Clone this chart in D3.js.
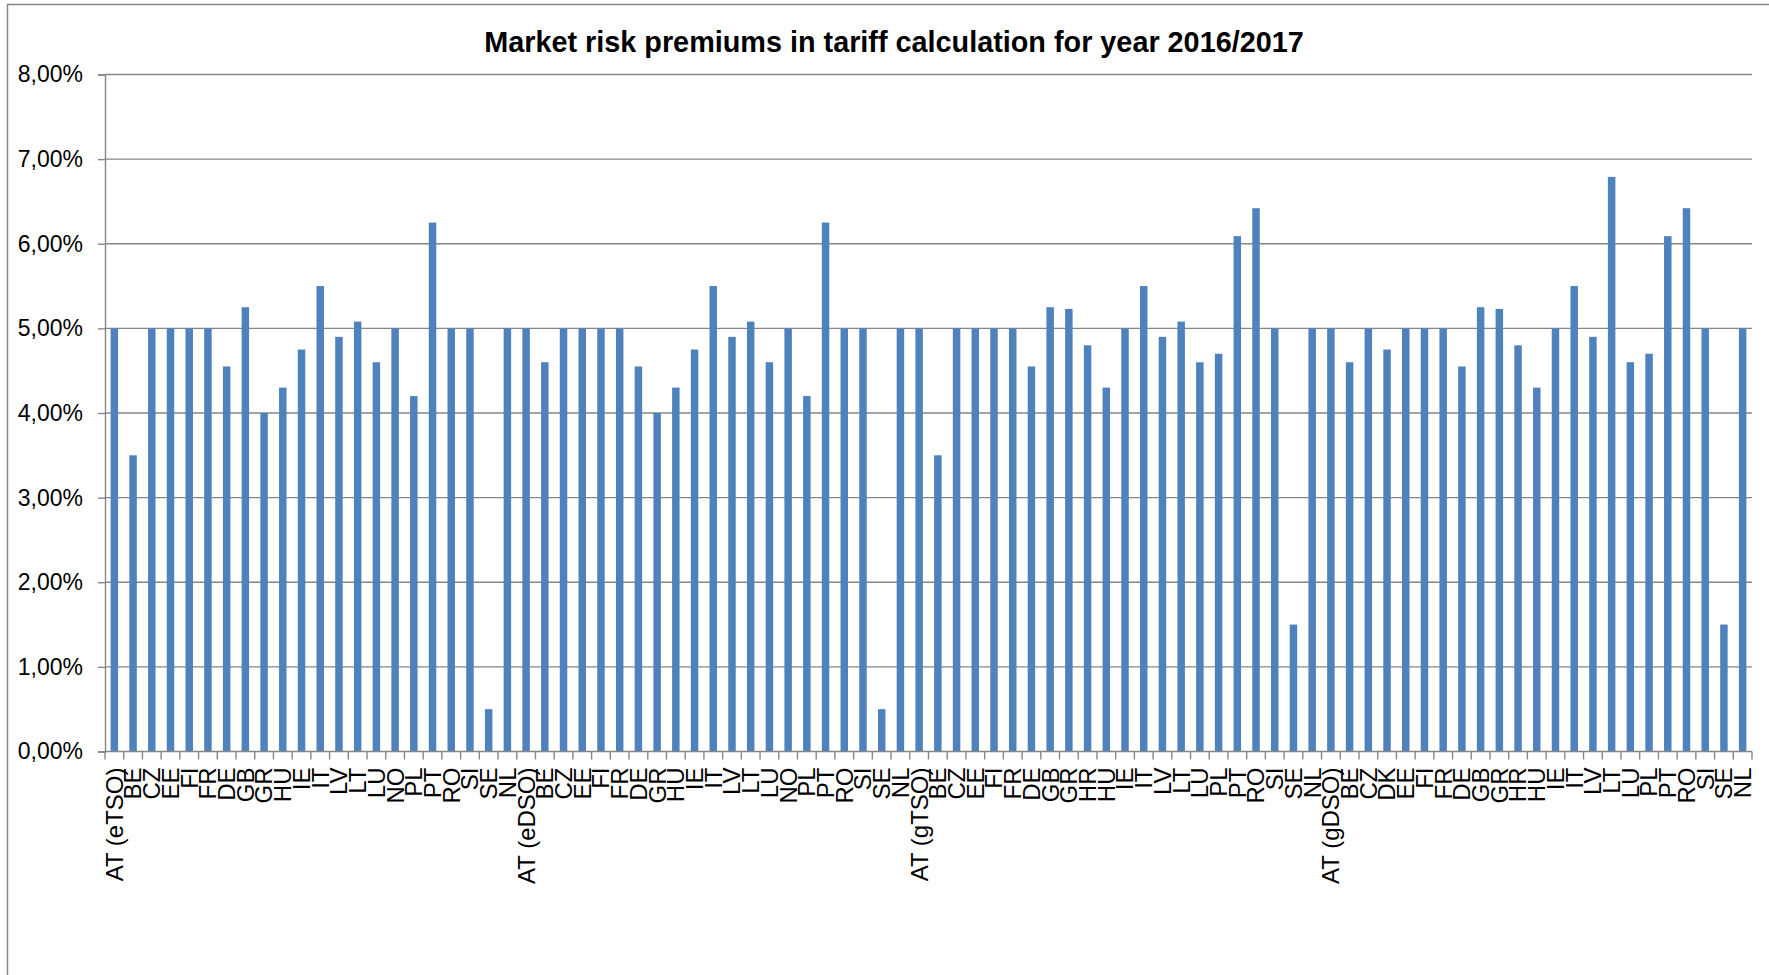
<!DOCTYPE html>
<html>
<head>
<meta charset="utf-8">
<script src="https://cdn.jsdelivr.net/npm/d3@7"></script>
<style>
  html, body { margin: 0; padding: 0; background: #ffffff; }
  svg { display: block; font-family: "Liberation Sans", Arial, Helvetica, sans-serif; }
</style>
</head>
<body>
<svg id="chart" width="1769" height="975"></svg>
<script>
// Market risk premiums (%) used in tariff calculation, by regulated segment
const chartTitle = "Market risk premiums in tariff calculation for year 2016/2017";

// Electricity transmission
const eTsoCountries = ["AT (eTSO)","BE","CZ","EE","FI","FR","DE","GB","GR","HU","IE","IT","LV","LT","LU","NO","PL","PT","RO","SI","SE","NL"];
const eTsoPremiums  = [5.00, 3.50, 5.00, 5.00, 5.00, 5.00, 4.55, 5.25, 4.00, 4.30, 4.75, 5.50, 4.90, 5.08, 4.60, 5.00, 4.20, 6.25, 5.00, 5.00, 0.50, 5.00];

// Electricity distribution
const eDsoCountries = ["AT (eDSO)","BE","CZ","EE","FI","FR","DE","GR","HU","IE","IT","LV","LT","LU","NO","PL","PT","RO","SI","SE","NL"];
const eDsoPremiums  = [5.00, 4.60, 5.00, 5.00, 5.00, 5.00, 4.55, 4.00, 4.30, 4.75, 5.50, 4.90, 5.08, 4.60, 5.00, 4.20, 6.25, 5.00, 5.00, 0.50, 5.00];

// Gas transmission
const gTsoCountries = ["AT (gTSO)","BE","CZ","EE","FI","FR","DE","GB","GR","HR","HU","IE","IT","LV","LT","LU","PL","PT","RO","SI","SE","NL"];
const gTsoPremiums  = [5.00, 3.50, 5.00, 5.00, 5.00, 5.00, 4.55, 5.25, 5.23, 4.80, 4.30, 5.00, 5.50, 4.90, 5.08, 4.60, 4.70, 6.09, 6.42, 5.00, 1.50, 5.00];

// Gas distribution
const gDsoCountries = ["AT (gDSO)","BE","CZ","DK","EE","FI","FR","DE","GB","GR","HR","HU","IE","IT","LV","LT","LU","PL","PT","RO","SI","SE","NL"];
const gDsoPremiums  = [5.00, 4.60, 5.00, 4.75, 5.00, 5.00, 5.00, 4.55, 5.25, 5.23, 4.80, 4.30, 5.00, 5.50, 4.90, 6.79, 4.60, 4.70, 6.09, 6.42, 5.00, 1.50, 5.00];

// Value axis ticks (percent)
const yTickValues = [0, 1, 2, 3, 4, 5, 6, 7, 8];

const categories = [].concat(eTsoCountries, eDsoCountries, gTsoCountries, gDsoCountries);
const premiums   = [].concat(eTsoPremiums, eDsoPremiums, gTsoPremiums, gDsoPremiums);
const rows = categories.map((c, i) => ({ i, label: c, value: premiums[i] }));

const svg = d3.select("#chart");
const plot = { left: 105, right: 1752, top: 74.5, bottom: 751.5 };
const gridColor = "#868686";
const barColor = "#4f81bd";

// Chart frame
svg.append("rect")
  .attr("x", 7.5).attr("y", 4.5)
  .attr("width", 1800).attr("height", 1000)
  .attr("fill", "none").attr("stroke", gridColor).attr("stroke-width", 1.5);

// Title
svg.append("text")
  .attr("x", 894).attr("y", 42)
  .attr("dy", "0.35em")
  .attr("text-anchor", "middle")
  .attr("font-weight", "bold")
  .attr("font-size", 28.8)
  .attr("fill", "#000")
  .text(chartTitle);

const x = d3.scaleBand()
  .domain(rows.map(d => d.i))
  .range([plot.left, plot.right])
  .paddingInner(0.6)
  .paddingOuter(0.3);

const y = d3.scaleLinear()
  .domain([0, 8])
  .range([plot.bottom, plot.top]);

const pct = v => d3.format(".2f")(v).replace(".", ",") + "%";

// Horizontal gridlines
svg.append("g")
  .selectAll("line")
  .data(yTickValues.filter(v => v > 0))
  .join("line")
  .attr("x1", plot.left).attr("x2", plot.right)
  .attr("y1", d => y(d)).attr("y2", d => y(d))
  .attr("stroke", gridColor).attr("stroke-width", 1.4);

// Bars
svg.append("g")
  .selectAll("rect")
  .data(rows)
  .join("rect")
  .attr("x", d => x(d.i))
  .attr("width", x.bandwidth())
  .attr("y", d => y(d.value))
  .attr("height", d => y(0) - y(d.value))
  .attr("fill", barColor);

// Value axis
const yAxis = svg.append("g")
  .attr("transform", `translate(${plot.left},0)`)
  .call(d3.axisLeft(y).tickValues(yTickValues).tickFormat(pct).tickSize(7).tickPadding(15));
yAxis.select(".domain").attr("stroke", gridColor).attr("stroke-width", 1.4);
yAxis.selectAll(".tick line").attr("stroke", gridColor).attr("stroke-width", 1.4);
yAxis.selectAll(".tick text")
  .attr("font-size", 23)
  .attr("font-family", "\"Liberation Sans\", Arial, sans-serif")
  .attr("fill", "#000");

// Category axis: line, boundary tick marks, rotated labels
const cat = svg.append("g");
cat.append("line")
  .attr("x1", plot.left).attr("x2", plot.right)
  .attr("y1", y(0)).attr("y2", y(0))
  .attr("stroke", gridColor).attr("stroke-width", 1.4);

const boundaries = d3.range(rows.length + 1).map(k => x.range()[0] + k * x.step());
cat.selectAll("line.tick")
  .data(boundaries)
  .join("line")
  .attr("class", "tick")
  .attr("x1", d => d).attr("x2", d => d)
  .attr("y1", y(0)).attr("y2", y(0) + 8)
  .attr("stroke", gridColor).attr("stroke-width", 1.4);

cat.selectAll("text")
  .data(rows)
  .join("text")
  .attr("transform", d => `translate(${x(d.i) + x.bandwidth() / 2},${y(0) + 16}) rotate(-90)`)
  .attr("dy", "0.35em")
  .attr("text-anchor", "end")
  .attr("font-size", 24)
  .attr("fill", "#000")
  .text(d => d.label);
</script>
</body>
</html>
